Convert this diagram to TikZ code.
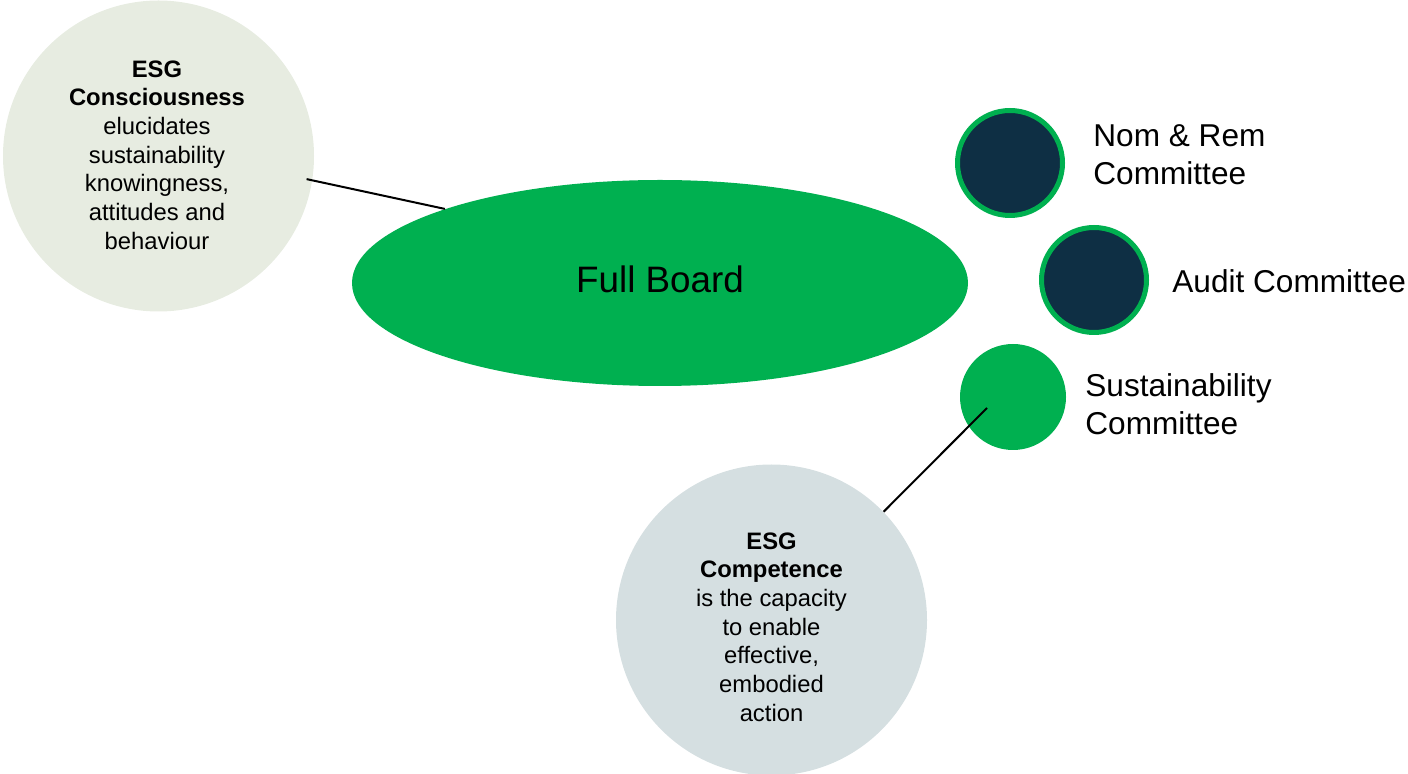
\documentclass[tikz,border=0pt]{standalone}
\usepackage{fontspec}
\setmainfont{Liberation Sans}
\usetikzlibrary{shapes.geometric}

\definecolor{boardgreen}{HTML}{00B050}
\definecolor{cttnavy}{HTML}{0E2F44}
\definecolor{consfill}{HTML}{E7ECE1}
\definecolor{compfill}{HTML}{D5DFE1}

\begin{document}
\begin{tikzpicture}[x=0.5pt,y=-0.5pt]
  \tikzset{
    bubble/.style={circle,inner sep=0pt,minimum size=155.5pt},
    bubbletext/.style={align=center,inner sep=0pt,
      font=\fontsize{11.9}{14.35}\selectfont},
    committee/.style={circle,inner sep=0pt,minimum size=52.5pt,
      draw=boardgreen,line width=2.5pt,fill=cttnavy},
    cttlabel/.style={anchor=west,align=left,inner sep=0pt,
      font=\fontsize{15.8}{19}\selectfont}
  }
  \useasboundingbox (0,0) rectangle (1408,774);

  \node[bubble,fill=consfill] (c0) at (158.5,156) {};
  \node[bubbletext] (t0) at (157,155)
    {\textbf{ESG}\\\textbf{Consciousness}\\elucidates\\sustainability\\
     knowingness,\\attitudes and\\behaviour};
  \node[ellipse,fill=boardgreen,inner sep=0pt,minimum width=308pt,
    minimum height=103pt] (b0) at (660,283) {};
  \node[font=\fontsize{18.4}{22}\selectfont] (t2) at (660,279) {Full Board};

  \node[committee] (k0) at (1010,163) {};
  \node[committee] (k1) at (1094,280) {};
  \node[circle,fill=boardgreen,inner sep=0pt,minimum size=53pt] (k2) at (1013,397) {};
  \node[cttlabel] (l0) at (1093,155) {Nom \& Rem\\Committee};
  \node[cttlabel] (l1) at (1172,281) {Audit Committee};
  \node[cttlabel] (l2) at (1085,404) {Sustainability\\Committee};

  \node[bubble,fill=compfill] (c1) at (771.5,620) {};
  \node[bubbletext] (t1) at (771.5,627)
    {\textbf{ESG}\\\textbf{Competence}\\is the capacity\\to enable\\
     effective,\\embodied\\action};
  \coordinate (s0) at (987,408);

  \begin{scope}[line width=1pt]
    \draw[shorten <=-3pt] (c0.-9) -- (b0.161.6);
    \draw (c1.44) -- (s0);
  \end{scope}
\end{tikzpicture}
\end{document}
